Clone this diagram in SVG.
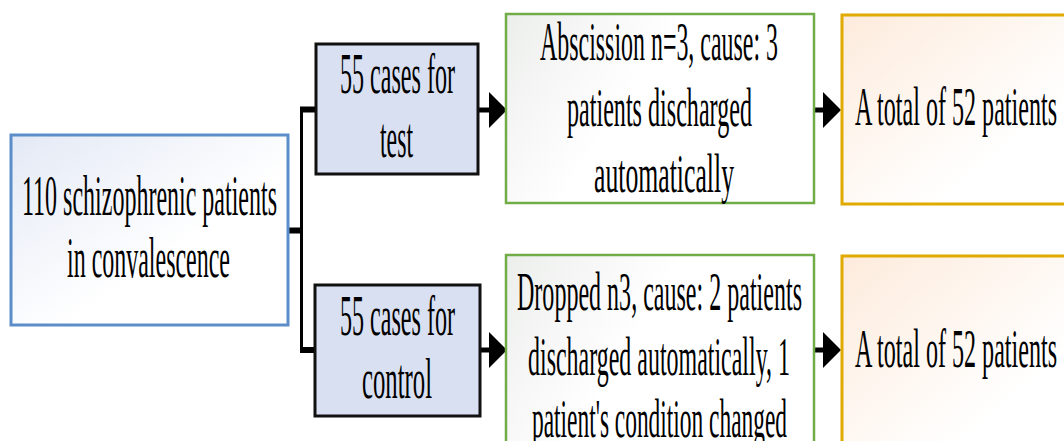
<svg xmlns="http://www.w3.org/2000/svg" width="1064" height="441" viewBox="0 0 1064 441">
  <style>
    text { font-family: "Liberation Serif", "Times New Roman", serif; fill: #000; }
    .t52 { font-size: 57px; }
    .t50 { font-size: 55px; }
    .conn { stroke: #000; fill: none; }
  </style>
  <defs>
    <linearGradient id="gBlue" x1="0" y1="0" x2="1" y2="1">
      <stop offset="0" stop-color="#e3e9f5"/>
      <stop offset="0.6" stop-color="#ffffff"/>
    </linearGradient>
    <linearGradient id="gGreen" x1="0" y1="0" x2="1" y2="0.4">
      <stop offset="0" stop-color="#eceeec"/>
      <stop offset="0.5" stop-color="#ffffff"/>
    </linearGradient>
    <linearGradient id="gOrange" x1="0" y1="0" x2="1" y2="1">
      <stop offset="0" stop-color="#fdebdc"/>
      <stop offset="0.7" stop-color="#ffffff"/>
    </linearGradient>
    <marker id="head" markerUnits="userSpaceOnUse" markerWidth="18" markerHeight="36" refX="0" refY="18" orient="auto">
      <path d="M0,0 L18,18 L0,36 Z" fill="#000"/>
    </marker>
  </defs>

  <g id="connectors">
    <line class="conn" x1="289" y1="230.5" x2="302" y2="230.5" stroke-width="6"/>
    <line class="conn" x1="301.5" y1="107" x2="301.5" y2="353" stroke-width="3"/>
    <line class="conn" x1="300" y1="109.5" x2="316" y2="109.5" stroke-width="6"/>
    <line class="conn" x1="300" y1="350" x2="315" y2="350" stroke-width="6"/>
    <line class="conn" x1="478" y1="110" x2="489" y2="110" stroke-width="5" marker-end="url(#head)"/>
    <line class="conn" x1="481" y1="350" x2="489" y2="350" stroke-width="5" marker-end="url(#head)"/>
    <line class="conn" x1="814" y1="110" x2="823" y2="110" stroke-width="5" marker-end="url(#head)"/>
    <line class="conn" x1="814" y1="350" x2="823" y2="350" stroke-width="5" marker-end="url(#head)"/>
  </g>

  <g id="n-start">
    <rect x="11" y="135" width="277" height="190" fill="url(#gBlue)" stroke="#5b8ec8" stroke-width="3"/>
    <text class="t52" x="22" y="215" textLength="255" lengthAdjust="spacingAndGlyphs">110 schizophrenic patients</text>
    <text class="t52" x="67" y="277" textLength="163" lengthAdjust="spacingAndGlyphs">in convalescence</text>
  </g>

  <g id="n-test">
    <rect x="316" y="44" width="162" height="130" fill="#d9e0f2" stroke="#111" stroke-width="3"/>
    <text class="t52" x="340" y="93" textLength="115" lengthAdjust="spacingAndGlyphs">55 cases for</text>
    <text class="t52" x="380" y="157" textLength="33" lengthAdjust="spacingAndGlyphs">test</text>
  </g>

  <g id="n-control">
    <rect x="315" y="285" width="165" height="131" fill="#d9e0f2" stroke="#111" stroke-width="3"/>
    <text class="t52" x="340" y="335" textLength="115" lengthAdjust="spacingAndGlyphs">55 cases for</text>
    <text class="t52" x="362" y="398" textLength="70" lengthAdjust="spacingAndGlyphs">control</text>
  </g>

  <g id="n-abscission">
    <rect x="506" y="14" width="308" height="189" fill="url(#gGreen)" stroke="#70ad47" stroke-width="2.5"/>
    <text class="t50" x="540" y="60" textLength="238" lengthAdjust="spacingAndGlyphs">Abscission n=3, cause: 3</text>
    <text class="t50" x="567" y="126" textLength="185" lengthAdjust="spacingAndGlyphs">patients discharged</text>
    <text class="t50" x="594" y="192" textLength="140" lengthAdjust="spacingAndGlyphs">automatically</text>
  </g>

  <g id="n-dropped">
    <rect x="506" y="255" width="308" height="210" fill="url(#gGreen)" stroke="#70ad47" stroke-width="2.5"/>
    <text class="t50" x="517" y="310" textLength="285" lengthAdjust="spacingAndGlyphs">Dropped n3, cause: 2 patients</text>
    <text class="t50" x="528" y="375" textLength="262" lengthAdjust="spacingAndGlyphs">discharged automatically, 1</text>
    <text class="t50" x="532" y="437" textLength="255" lengthAdjust="spacingAndGlyphs">patient's condition changed</text>
  </g>

  <g id="n-total-test">
    <rect x="842" y="15" width="240" height="189" fill="url(#gOrange)" stroke="#e0aa00" stroke-width="3"/>
    <text class="t50" x="855" y="125" textLength="202" lengthAdjust="spacingAndGlyphs">A total of 52 patients</text>
  </g>

  <g id="n-total-control">
    <rect x="842" y="256" width="240" height="210" fill="url(#gOrange)" stroke="#e0aa00" stroke-width="3"/>
    <text class="t50" x="855" y="367" textLength="202" lengthAdjust="spacingAndGlyphs">A total of 52 patients</text>
  </g>
</svg>
